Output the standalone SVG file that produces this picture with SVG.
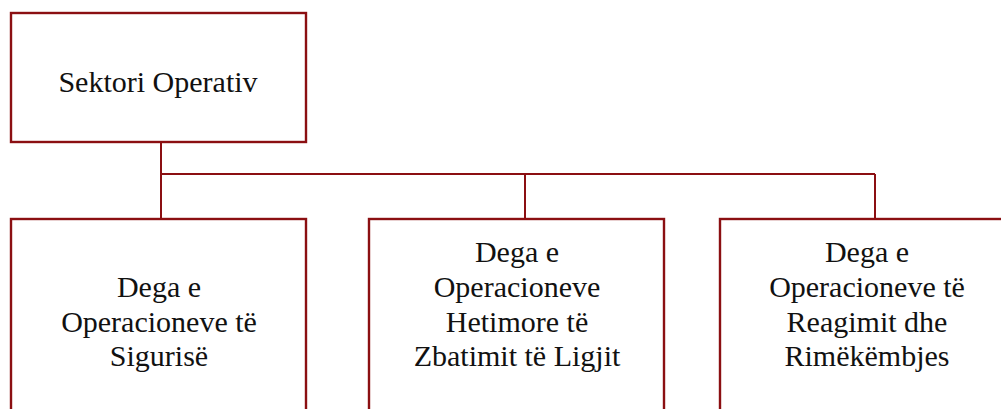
<svg xmlns="http://www.w3.org/2000/svg" width="1001" height="409" viewBox="0 0 1001 409">
<style>
.box{fill:#ffffff;stroke:#8b0f12;stroke-width:2.4}
.con{fill:none;stroke:#8b0f12;stroke-width:2}
.t{font-size:30px;fill:#111111;text-anchor:middle}
</style>
<rect width="1001" height="409" fill="#ffffff"/>
<g id="connectors">
<path class="con" d="M161,143 V218 M161,174 H875 M525,174 V218 M875,174 V218"/>
</g>
<g font-family="'Liberation Serif', 'Times New Roman', serif">
<g id="node-sektori">
<rect class="box" x="11" y="13" width="295" height="129"/>
<text class="t" x="158" y="92">Sektori Operativ</text>
</g>
<g id="node-siguri">
<rect class="box" x="11" y="219" width="295" height="210"/>
<text class="t" x="159" y="297">Dega e</text>
<text class="t" x="159" y="332">Operacioneve të</text>
<text class="t" x="159" y="366">Sigurisë</text>
</g>
<g id="node-hetimore">
<rect class="box" x="369" y="219" width="295" height="210"/>
<text class="t" x="517" y="262">Dega e</text>
<text class="t" x="517" y="297">Operacioneve</text>
<text class="t" x="517" y="332">Hetimore të</text>
<text class="t" x="517" y="366">Zbatimit të Ligjit</text>
</g>
<g id="node-reagimi">
<rect class="box" x="720" y="219" width="295" height="210"/>
<text class="t" x="867" y="262">Dega e</text>
<text class="t" x="867" y="297">Operacioneve të</text>
<text class="t" x="867" y="332">Reagimit dhe</text>
<text class="t" x="867" y="366">Rimëkëmbjes</text>
</g>
</g>
</svg>
